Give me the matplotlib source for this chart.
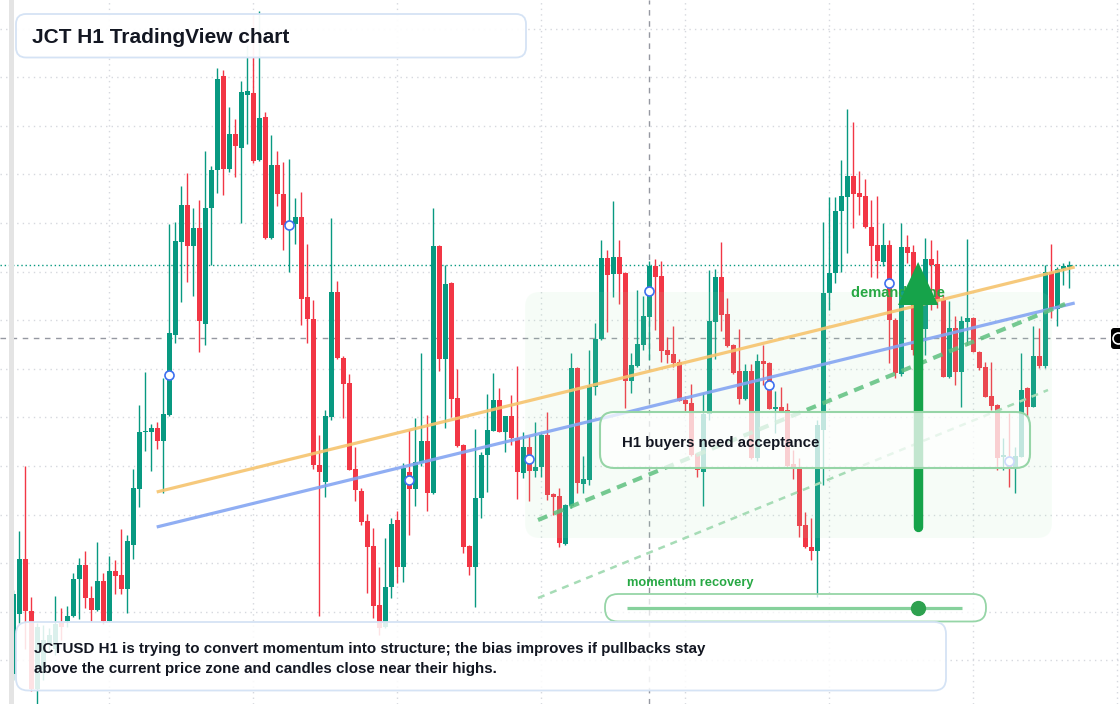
import numpy as np
import matplotlib.pyplot as plt
from matplotlib.patches import FancyBboxPatch, Polygon, Rectangle, Circle

plt.rcParams["font.family"] = ["Liberation Sans", "DejaVu Sans"]

# JCTUSD H1 candles (price units)
opens = [.326, .386, .441, .389, .311, .330, .355, .351, .377, .379,
         .384, .421, .435, .402, .390, .419, .379, .429, .425, .411,
         .455, .511, .568, .568, .572, .559, .585, .665, .758, .795,
         .754, .772, .676, .792, .830, .924, .831, .866, .852, .905,
         .907, .840, .883, .762, .835, .806, .774, .776, .783, .703,
         .681, .535, .518, .583, .708, .642, .617, .531, .509, .479,
         .454, .395, .373, .413, .480, .433, .528, .511, .537, .559,
         .507, .754, .641, .717, .602, .555, .454, .433, .502, .545,
         .569, .600, .568, .584, .562, .527, .553, .529, .533, .565,
         .506, .504, .456, .494, .632, .516, .520, .613, .661, .742,
         .726, .743, .727, .619, .634, .655, .683, .734, .724, .650,
         .646, .638, .600, .597, .546, .528, .586, .678, .723, .686,
         .655, .629, .601, .629, .542, .639, .637, .591, .593, .590,
         .536, .532, .475, .453, .449, .570, .707, .727, .789, .803,
         .824, .807, .804, .773, .755, .738, .755, .680, .626, .753,
         .748, .650, .671, .741, .736, .700, .623, .672, .628, .678,
         .682, .648, .633, .604, .595, .543, .543, .533, .543, .612,
         .593, .644, .634, .728, .691, .731, .733]
highs = [.410, .469, .534, .403, .377, .375, .372, .404, .392, .394,
         .427, .442, .449, .414, .458, .427, .444, .440, .471, .465,
         .531, .595, .628, .576, .578, .622, .776, .778, .814, .827,
         .792, .800, .849, .834, .932, .930, .893, .881, .919, .955,
         .985, .989, .888, .865, .849, .838, .841, .802, .808, .756,
         .700, .565, .590, .782, .719, .644, .626, .553, .512, .486,
         .472, .433, .462, .482, .489, .537, .570, .582, .647, .585,
         .792, .755, .735, .718, .631, .556, .455, .571, .548, .606,
         .627, .612, .584, .605, .634, .568, .564, .578, .567, .588,
         .507, .512, .496, .647, .633, .544, .650, .677, .760, .750,
         .799, .760, .728, .647, .710, .704, .739, .741, .739, .663,
         .674, .641, .604, .616, .547, .607, .730, .731, .758, .702,
         .656, .671, .636, .636, .646, .655, .638, .609, .613, .597,
         .550, .542, .488, .482, .580, .778, .803, .803, .840, .891,
         .878, .829, .821, .800, .804, .777, .760, .682, .777, .765,
         .755, .710, .762, .760, .750, .705, .699, .684, .684, .761,
         .683, .649, .638, .638, .596, .562, .587, .553, .647, .613,
         .674, .672, .735, .756, .733, .737, .739]
lows = [.320, .377, .351, .309, .290, .320, .350, .345, .360, .373,
        .383, .381, .392, .379, .389, .376, .378, .406, .406, .387,
        .441, .493, .549, .529, .551, .507, .584, .657, .698, .718,
        .704, .648, .655, .735, .807, .805, .828, .823, .777, .856,
        .837, .839, .761, .761, .794, .750, .728, .756, .675, .657,
        .531, .384, .503, .580, .641, .582, .530, .499, .475, .407,
        .382, .365, .372, .402, .417, .418, .465, .494, .534, .489,
        .506, .629, .572, .583, .553, .447, .425, .393, .482, .508,
        .569, .568, .548, .555, .501, .522, .499, .523, .523, .500,
        .485, .453, .455, .492, .507, .507, .515, .605, .660, .668,
        .703, .696, .592, .607, .633, .650, .640, .670, .638, .637,
        .633, .599, .588, .544, .523, .494, .580, .641, .669, .653,
        .626, .596, .600, .541, .539, .615, .591, .567, .588, .533,
        .521, .463, .452, .440, .403, .515, .690, .717, .728, .747,
        .772, .785, .772, .723, .722, .734, .637, .622, .624, .737,
        .645, .640, .645, .690, .692, .623, .622, .615, .593, .655,
        .648, .630, .603, .590, .530, .530, .513, .507, .543, .583,
        .593, .632, .632, .682, .674, .715, .712]
closes = [.406, .441, .389, .311, .373, .360, .365, .376, .373, .384,
          .421, .435, .402, .390, .419, .379, .429, .424, .411, .459,
          .512, .568, .569, .572, .559, .586, .667, .759, .795, .754,
          .772, .679, .792, .830, .921, .831, .866, .854, .908, .909,
          .839, .882, .762, .835, .806, .775, .776, .783, .701, .681,
          .535, .528, .584, .708, .642, .616, .530, .510, .478, .453,
          .394, .372, .413, .476, .433, .532, .511, .538, .559, .507,
          .754, .641, .716, .601, .554, .453, .433, .502, .545, .570,
          .600, .568, .584, .562, .528, .553, .529, .533, .565, .505,
          .503, .457, .495, .632, .517, .521, .614, .661, .742, .725,
          .743, .726, .619, .635, .656, .684, .734, .723, .649, .645,
          .637, .599, .596, .545, .530, .586, .679, .723, .685, .654,
          .627, .601, .629, .542, .639, .636, .591, .593, .589, .534,
          .531, .474, .453, .449, .575, .707, .727, .789, .804, .824,
          .806, .803, .773, .754, .739, .755, .680, .627, .753, .747,
          .650, .700, .741, .735, .699, .623, .672, .628, .679, .682,
          .648, .632, .603, .594, .542, .545, .533, .544, .610, .593,
          .644, .634, .728, .691, .731, .734, .735]

# drawings on the chart
trend_x = [23.9, 176.9]
orange_y = [0.508, 0.733]
blue_y = [0.473, 0.697]
support_x = [87.45, 175.3]
support_y = [0.480, 0.696]
lower_x = [87.45, 172.45]
lower_y = [0.402, 0.610]
pivot_x = [26, 46, 66, 86, 106, 126, 146, 166]
pivot_y = [.625, .775, .520, .541, .709, .615, .717, .539]
zone_x = [85.3, 173.1]
zone_y = [0.462, 0.708]
arrow_x = 150.8
arrow_y = [0.473, 0.738]
last_price = 0.735
cross_price = 0.662
cross_bar = 106

GREEN = "#089981"
RED = "#f23645"
TEXT = "#131722"

fig = plt.figure(figsize=(11.2, 7.04), dpi=100)
ax = fig.add_axes([0, 0, 1, 1])
ax.set_xlim(-2.217, 184.45)
ax.set_ylim(0.296, 1.0)
for s in ax.spines.values():
    s.set_visible(False)
ax.tick_params(length=0, labelleft=False, labelbottom=False)
ax.set_xticks(np.arange(16, 185, 24))
ax.set_yticks(np.arange(0.3397, 0.98, 0.0486))
ax.grid(True, color="#d6d8de", linestyle=(0, (1, 3)), linewidth=1)
ax.set_axisbelow(True)

ax.axhline(last_price, color=GREEN, linestyle=(0, (1, 2)), lw=1, zorder=1)
ax.axhline(cross_price, color="#9598a1", linestyle=(0, (4, 4)), lw=1, zorder=1)
ax.axvline(cross_bar, color="#9598a1", linestyle=(0, (4, 4)), lw=1, zorder=1)

# candles
o, h, l, c = (np.array(v) for v in (opens, highs, lows, closes))
x = np.arange(len(o))
col = np.where(c >= o, GREEN, RED)
ax.vlines(x, l, h, colors=col, lw=1, zorder=2)
ax.bar(x, np.maximum(np.abs(c - o), 0.0012), bottom=np.minimum(o, c),
       width=0.78, color=col, linewidth=0, zorder=3)

# demand zone
zone = FancyBboxPatch((zone_x[0], zone_y[0]), zone_x[1] - zone_x[0], zone_y[1] - zone_y[0],
                      boxstyle="round,pad=0,rounding_size=2.5", mutation_aspect=0.006,
                      fc=(0.66, 0.92, 0.71, 0.10), ec="none", zorder=4)
ax.add_patch(zone)

ax.plot(trend_x, orange_y, color="#f6c46e", lw=2.3, alpha=0.9, zorder=5, solid_capstyle="butt")
ax.plot(trend_x, blue_y, color="#84a5f2", lw=2.3, alpha=0.9, zorder=5, solid_capstyle="butt")
ax.plot(support_x, support_y, color="#5fc07f", lw=3, alpha=0.85,
        linestyle=(0, (2.4, 1.7)), zorder=5)
ax.plot(lower_x, lower_y, color="#a6dcb6", lw=1.8, linestyle=(0, (2.8, 2.4)), zorder=5)
ax.plot(pivot_x, pivot_y, linestyle="none", marker="o", ms=6.5, mfc="white",
        mec="#3d6ff0", mew=1.2, zorder=6)

ax.text((851 - 13.3) / 6, 0.707, "demand zone", color="#27a844", fontsize=10.5,
        fontweight="bold", ha="left", va="center", zorder=7)

# arrow
ax.plot([arrow_x, arrow_x], [arrow_y[0], arrow_y[1] - 0.04], color="#16a34a", lw=6.8,
        solid_capstyle="round", zorder=8)
ax.add_patch(Polygon([(arrow_x - 3.35, arrow_y[1] - 0.043), (arrow_x + 3.35, arrow_y[1] - 0.043),
                      (arrow_x, arrow_y[1])], closed=True, fc="#16a34a", ec="none", zorder=8))

# overlay for notes (pixel layout)
ov = fig.add_axes([0, 0, 1, 1])
ov.set_xlim(0, 1120)
ov.set_ylim(704, 0)
ov.axis("off")
ov.patch.set_visible(False)


def rbox(x0, y0, x1, y1, r, fc, ec, lw, z=2):
    ov.add_patch(FancyBboxPatch((x0, y0), x1 - x0, y1 - y0,
                                boxstyle=f"round,pad=0,rounding_size={r}",
                                fc=fc, ec=ec, lw=lw, zorder=z))


ov.add_patch(Rectangle((9, 0), 4.5, 704, fc="#e4e4e4", ec="none", zorder=1))

rbox(16, 14, 526, 57.5, 10, (1, 1, 1, 0.95), "#d5e3f5", 1.3)
ov.text(32, 37.5, "JCT H1 TradingView chart", fontsize=15, fontweight="bold",
        color=TEXT, ha="left", va="center", zorder=3)

rbox(600, 412, 1030, 468, 14, (1, 1, 1, 0.74), "#96d5a7", 1.5)
ov.text(622, 443, "H1 buyers need acceptance", fontsize=10.8, fontweight="bold",
        color=TEXT, ha="left", va="center", zorder=3)

ov.text(627, 583, "momentum recovery", fontsize=9.3, fontweight="bold",
        color="#27a844", ha="left", va="center", zorder=3)
rbox(605, 594, 986, 621.5, 13, (1, 1, 1, 0.7), "#96d5a7", 1.3)
ov.plot([627, 962], [608, 608], color="#86d19c", lw=2.3, solid_capstyle="butt", zorder=3)
ov.plot([918], [608], marker="o", ms=10, color="#2ea14f", zorder=4)

rbox(16, 622, 946, 690.5, 12, (1, 1, 1, 0.86), "#d5e3f5", 1.3)
ov.text(34, 648.5, "JCTUSD H1 is trying to convert momentum into structure; the bias improves if pullbacks stay",
        fontsize=10.9, fontweight="bold", color=TEXT, ha="left", va="center", zorder=3)
ov.text(34, 668.5, "above the current price zone and candles close near their highs.",
        fontsize=10.9, fontweight="bold", color=TEXT, ha="left", va="center", zorder=3)

# price label stub on the right edge
rbox(1111, 328, 1126, 349, 3, "#000000", "none", 0, z=3)
ov.add_patch(Circle((1118.5, 338.5), 5.5, fc="none", ec="white", lw=1.2, zorder=4))

fig.savefig("out.png", dpi=100)
